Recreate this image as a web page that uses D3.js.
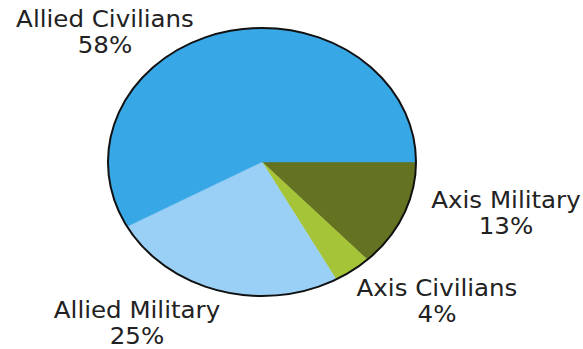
<!DOCTYPE html>
<html>
<head>
<meta charset="utf-8">
<script src="https://cdn.jsdelivr.net/npm/d3@7"></script>
<style>
html,body{margin:0;padding:0;background:#fff;}
svg{display:block;}
text{font-family:"DejaVu Sans",sans-serif;fill:#222;}
</style>
</head>
<body>
<svg id="chart" width="583" height="349"></svg>
<script>
const categories = ["Axis Military", "Axis Civilians", "Allied Military", "Allied Civilians"];
const values = [13, 4, 25, 58];
const colors = ["#647322", "#a6c437", "#9bd0f6", "#38a7e6"];
// label anchor layout (center x, first baseline y)
const labelX = [506, 437, 137, 105];
const labelY = [208, 296, 318, 27];

const svg = d3.select("#chart");
const cx = 262, cy = 162, rx = 154, ry = 134;

const data = categories.map((c, i) => ({name: c, value: values[i], color: colors[i]}));
const pie = d3.pie().value(d => d.value).sort(null)
  .startAngle(Math.PI / 2).endAngle(Math.PI / 2 + 2 * Math.PI);
const arc = d3.arc().innerRadius(0).outerRadius(rx);

const g = svg.append("g")
  .attr("transform", `translate(${cx},${cy}) scale(1,${ry / rx})`);
g.selectAll("path").data(pie(data)).join("path")
  .attr("d", arc)
  .attr("fill", d => d.data.color)
  .attr("stroke", d => d.data.color)
  .attr("stroke-width", 0.5);

svg.append("ellipse")
  .attr("cx", cx).attr("cy", cy).attr("rx", rx).attr("ry", ry)
  .attr("fill", "none").attr("stroke", "#111").attr("stroke-width", 2);

const fs = 22.5, sx = 1.09;
const labels = svg.selectAll("g.lbl").data(data).join("g").attr("class", "lbl")
  .attr("transform", (d, i) => `translate(${labelX[i]},${labelY[i]}) scale(${sx},1)`);
labels.append("text").attr("text-anchor", "middle").attr("font-size", fs)
  .attr("y", 0).text(d => d.name);
labels.append("text").attr("text-anchor", "middle").attr("font-size", fs)
  .attr("y", 26.5).text(d => d.value + "%");
</script>
</body>
</html>
